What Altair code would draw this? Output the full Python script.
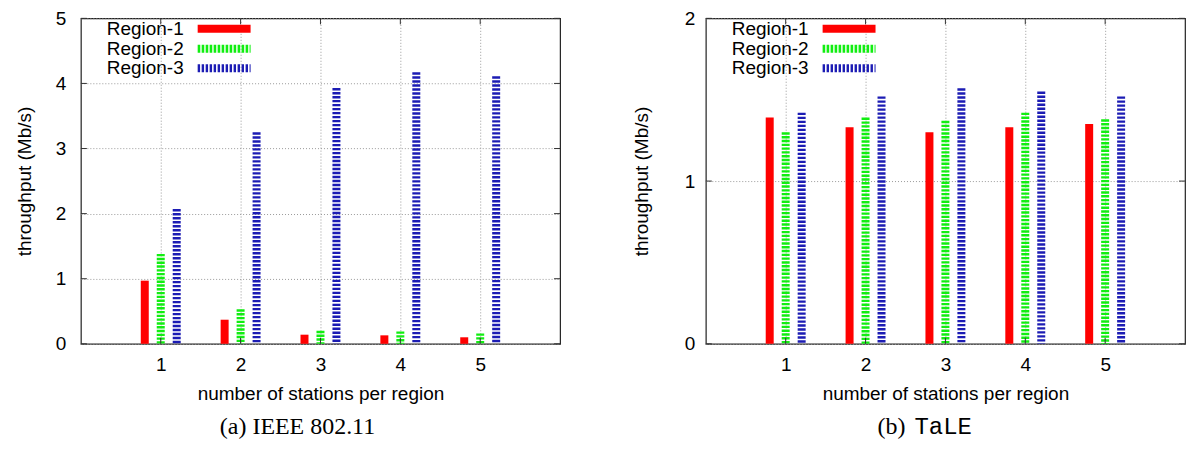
import altair as alt
import pandas as pd

# ---------------- data ----------------
stations = [1, 2, 3, 4, 5]
regions = ["Region-1", "Region-2", "Region-3"]

ieee_r1 = [0.97, 0.37, 0.14, 0.13, 0.10]
ieee_r2 = [1.38, 0.53, 0.20, 0.19, 0.16]
ieee_r3 = [2.07, 3.25, 3.93, 4.17, 4.11]

tale_r1 = [1.39, 1.33, 1.30, 1.33, 1.35]
tale_r2 = [1.30, 1.39, 1.37, 1.42, 1.38]
tale_r3 = [1.42, 1.52, 1.57, 1.55, 1.52]

x_ticks = [1, 2, 3, 4, 5]
y_ticks_a = [0, 1, 2, 3, 4, 5]
y_ticks_b = [0, 1, 2]

# ---------------- style ----------------
W, H = 480, 326
SANS = "Liberation Sans"
SERIF = "Liberation Serif"
MONO = "Liberation Mono"
FS = 19
colors = ["#ff0000", "#11ee11", "#1c1cb4"]
bar_dash = [None, [2.4, 1.4], [2.4, 1.6]]
leg_dash = [None, [2.6, 1.4], [2.4, 1.6]]
offsets = [-16, 0, 16]
legend_y = [10.5, 30.5, 50]


def panel(series, ymax, yticks, caption_parts, label_pad, title_pad):
    rows = []
    for reg, vals in zip(regions, series):
        for s, v in zip(stations, vals):
            rows.append({"station": s, "region": reg, "value": v})
    df = pd.DataFrame(rows)

    xscale = alt.Scale(domain=[0, 6], nice=False, zero=False)
    yscale = alt.Scale(domain=[0, ymax], nice=False)
    xaxis = alt.Axis(values=x_ticks, title="number of stations per region",
                     format="d", labelOverlap=False)
    yaxis = alt.Axis(tickCount=len(yticks) - 1, title="throughput (Mb/s)",
                     format="d", labelOverlap=False,
                     labelPadding=label_pad, titlePadding=title_pad)

    layers = []
    for i, reg in enumerate(regions):
        mk = dict(strokeWidth=8, color=colors[i], xOffset=offsets[i],
                  strokeCap="butt")
        if bar_dash[i] is not None:
            mk["strokeDash"] = bar_dash[i]
        layers.append(
            alt.Chart(df).transform_filter(alt.datum.region == reg)
            .mark_rule(**mk)
            .encode(
                x=alt.X("station:Q", scale=xscale, axis=xaxis),
                y=alt.Y("value:Q", scale=yscale, axis=yaxis),
                y2=alt.datum(0),
            )
        )

    # inward tick marks (gnuplot style, mirrored)
    ydf = pd.DataFrame({"value": yticks})
    xdf = pd.DataFrame({"station": x_ticks})
    tick_style = dict(color="#333333", strokeWidth=1)
    layers.append(alt.Chart(ydf).mark_rule(**tick_style).encode(
        y=alt.Y("value:Q", scale=yscale, axis=yaxis), x=alt.value(0), x2=alt.value(6)))
    layers.append(alt.Chart(ydf).mark_rule(**tick_style).encode(
        y=alt.Y("value:Q", scale=yscale, axis=yaxis), x=alt.value(W - 6), x2=alt.value(W)))
    layers.append(alt.Chart(xdf).mark_rule(**tick_style).encode(
        x=alt.X("station:Q", scale=xscale, axis=xaxis), y=alt.value(H), y2=alt.value(H - 6)))
    layers.append(alt.Chart(xdf).mark_rule(**tick_style).encode(
        x=alt.X("station:Q", scale=xscale, axis=xaxis), y=alt.value(0), y2=alt.value(6)))

    # legend
    for i, reg in enumerate(regions):
        ldf = pd.DataFrame({"label": [reg]})
        layers.append(alt.Chart(ldf).mark_text(
            font=SANS, fontSize=FS, align="right", baseline="middle", color="black"
        ).encode(x=alt.value(103), y=alt.value(legend_y[i]), text="label:N"))
        mk = dict(strokeWidth=8, color=colors[i], strokeCap="butt")
        if leg_dash[i] is not None:
            mk["strokeDash"] = leg_dash[i]
        layers.append(alt.Chart(ldf).mark_rule(**mk).encode(
            x=alt.value(117), x2=alt.value(170), y=alt.value(legend_y[i])))

    # caption
    for part in caption_parts:
        text, font, xpos, align = part
        cdf = pd.DataFrame({"t": [text]})
        layers.append(alt.Chart(cdf).mark_text(
            font=font, fontSize=24, align=align, baseline="middle", color="black"
        ).encode(x=alt.value(xpos), y=alt.value(409), text="t:N"))

    return alt.layer(*layers).properties(width=W, height=H)


left = panel([ieee_r1, ieee_r2, ieee_r3], 5, y_ticks_a,
             [("(a) IEEE 802.11", SERIF, 217, "center")], 15, 21)
right = panel([tale_r1, tale_r2, tale_r3], 2, y_ticks_b,
              [("(b)", SERIF, 200, "right"), ("TaLE", MONO, 209, "left")], 11, 33)

chart = alt.hconcat(left, right, spacing=69).properties(
    padding={"left": 6, "top": 0, "right": 5, "bottom": 0}
).configure_view(
    stroke="#222222", strokeWidth=1.2
).configure_axis(
    grid=True, gridDash=[1, 2], gridColor="#9a9a9a", gridWidth=1,
    ticks=False, domain=False,
    labelFont=SANS, labelFontSize=FS, labelColor="black",
    titleFont=SANS, titleFontSize=FS, titleFontWeight="normal", titleColor="black",
).configure_axisX(titlePadding=10, labelPadding=12)

chart.save("out.html", embed_options={"renderer": "svg", "actions": False})
